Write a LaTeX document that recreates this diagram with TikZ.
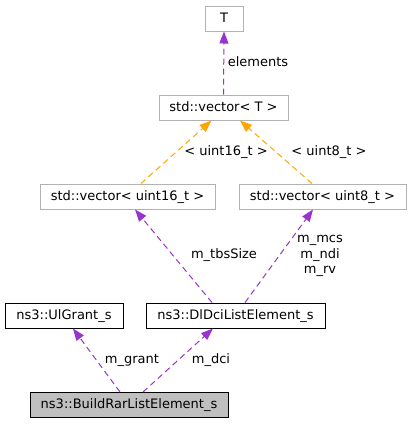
\documentclass[tikz,border=0pt]{standalone}
\usepackage{fontspec}
\setmainfont{DejaVu Sans}
\usetikzlibrary{arrows.meta}
\usetikzlibrary{positioning}
\definecolor{edgepurple}{HTML}{9A32CD}
\definecolor{edgeorange}{HTML}{FFA500}
\tikzset{every picture/.style={line width=1pt}}

\begin{document}
\begin{tikzpicture}[x=1pt,y=-1pt,
every node/.style={font=\fontsize{13}{15}\selectfont},
cls/.style={draw=black, inner sep=0pt, minimum height=25pt, text height=9.5pt, text depth=2.5pt},
tmpl/.style={cls, draw=gray!60},
focus/.style={cls, fill=gray!50},
member/.style={draw=edgepurple, dash pattern=on 6pt off 4pt, -{Triangle[length=12pt,width=9pt]}},
inst/.style={draw=edgeorange, dash pattern=on 6pt off 4pt, -{Triangle[length=12pt,width=9pt]}},
lbl/.style={align=center, inner sep=1pt}]

\useasboundingbox (0,0) rectangle (411,424);

%\draw (0,0) rectangle (411,424);
\node (T) at (224,18.5) [tmpl, minimum width=38pt] {T};
\node (vT) at (223.5,107.5) [tmpl, minimum width=129pt] {std::vector< T >};
\node (v16) at (127.5,196.5) [tmpl, minimum width=175pt] {std::vector< uint16\_t >};
\node (v8) at (322.5,196.5) [tmpl, minimum width=167pt] {std::vector< uint8\_t >};
\node (ul) at (64,315.5) [cls, minimum width=118pt] {ns3::UlGrant\_s};
\node (dl) at (235.5,315.5) [cls, minimum width=179pt] {ns3::DlDciListElement\_s};
\node (br) at (129,405) [focus, minimum width=198pt] {ns3::BuildRarListElement\_s};

\draw [member] (vT.north) -- (T.south);
\draw [inst] ([xshift=13.5pt]v16.north) -- ([xshift=-12pt]vT.south);
\draw [inst] ([xshift=-10.5pt]v8.north) -- ([xshift=16.5pt]vT.south);
\draw [member] ([xshift=-23.5pt]dl.north) -- ([xshift=7.5pt]v16.south);
\draw [member] ([xshift=9.5pt]dl.north) -- ([xshift=-9.5pt]v8.south);
\draw [member] ([xshift=-9pt]br.north) -- ([xshift=9pt]ul.south);
\draw [member] ([xshift=14pt]br.north) -- ([xshift=-22.5pt]dl.south);

% edge labels
\node (lelem) at (258,62) [lbl] {elements};
\node (l16) at (226,152) [lbl] {< uint16\_t >};
\node (l8) at (329,152) [lbl] {< uint8\_t >};
\node (ltbs) at (224,255) [lbl] {m\_tbsSize};
\node (lmcs) at (320,256) [lbl, font=\fontsize{13}{15.5}\selectfont] {m\_mcs\\m\_ndi\\m\_rv};
\node (lgrant) at (132,360) [lbl] {m\_grant};
\node (ldci) at (211,360) [lbl] {m\_dci};

\end{tikzpicture}
\end{document}
